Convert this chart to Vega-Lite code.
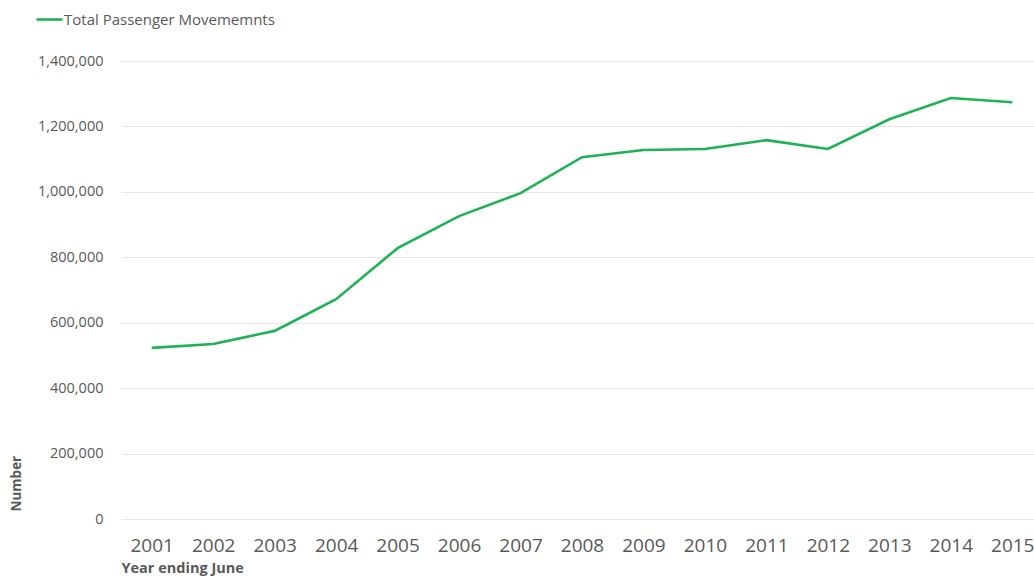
{
  "$schema": "https://vega.github.io/schema/vega-lite/v6.json",
  "autosize": {"type": "none"},
  "padding": {"left": 121, "top": 61, "right": 0, "bottom": 64},
  "width": 922,
  "height": 458,
  "background": "white",
  "data": {"values": [
    {"year": "2001", "value": 523000, "series": "Total Passenger Movememnts"},
    {"year": "2002", "value": 535000, "series": "Total Passenger Movememnts"},
    {"year": "2003", "value": 575000, "series": "Total Passenger Movememnts"},
    {"year": "2004", "value": 672000, "series": "Total Passenger Movememnts"},
    {"year": "2005", "value": 828000, "series": "Total Passenger Movememnts"},
    {"year": "2006", "value": 926000, "series": "Total Passenger Movememnts"},
    {"year": "2007", "value": 996000, "series": "Total Passenger Movememnts"},
    {"year": "2008", "value": 1106000, "series": "Total Passenger Movememnts"},
    {"year": "2009", "value": 1128000, "series": "Total Passenger Movememnts"},
    {"year": "2010", "value": 1131000, "series": "Total Passenger Movememnts"},
    {"year": "2011", "value": 1158000, "series": "Total Passenger Movememnts"},
    {"year": "2012", "value": 1131000, "series": "Total Passenger Movememnts"},
    {"year": "2013", "value": 1222000, "series": "Total Passenger Movememnts"},
    {"year": "2014", "value": 1287000, "series": "Total Passenger Movememnts"},
    {"year": "2015", "value": 1274000, "series": "Total Passenger Movememnts"}
  ]},
  "mark": {"type": "line", "strokeWidth": 2.6},
  "encoding": {
    "x": {
      "field": "year", "type": "ordinal",
      "scale": {"type": "point", "padding": 0.5},
      "axis": {
        "title": "Year ending June", "titleFont": "Open Sans", "titleFontSize": 14.5, "titleFontWeight": "bold",
        "titleColor": "#595959", "titleAnchor": "start", "titleAlign": "left", "titlePadding": 6,
        "labelFont": "Open Sans", "labelFontSize": 19, "labelColor": "#595959", "labelAngle": 0, "labelPadding": 17,
        "domain": false, "ticks": false, "grid": false
      }
    },
    "y": {
      "field": "value", "type": "quantitative",
      "scale": {"domain": [0, 1400000]},
      "axis": {
        "title": "Number", "titleFont": "Open Sans", "titleFontSize": 13.5, "titleFontWeight": "bold",
        "titleColor": "#595959", "titleAnchor": "start", "titlePadding": 14, "titleY": 450,
        "labelFont": "Open Sans", "labelFontSize": 14.5, "labelColor": "#595959", "labelPadding": 18,
        "values": [0, 200000, 400000, 600000, 800000, 1000000, 1200000, 1400000],
        "format": ",d",
        "domain": false, "ticks": false, "grid": true, "gridColor": "#e6e6e6", "gridWidth": 1
      }
    },
    "color": {
      "field": "series", "type": "nominal",
      "scale": {"range": ["#1db355"]},
      "legend": {
        "title": null, "orient": "none", "legendX": -86, "legendY": -56,
        "symbolType": "stroke", "symbolSize": 676, "symbolStrokeWidth": 2.6,
        "labelFont": "Open Sans", "labelFontSize": 15, "labelColor": "#595959", "labelOffset": 0, "labelLimit": 0
      }
    }
  },
  "config": {"view": {"stroke": null}}
}
